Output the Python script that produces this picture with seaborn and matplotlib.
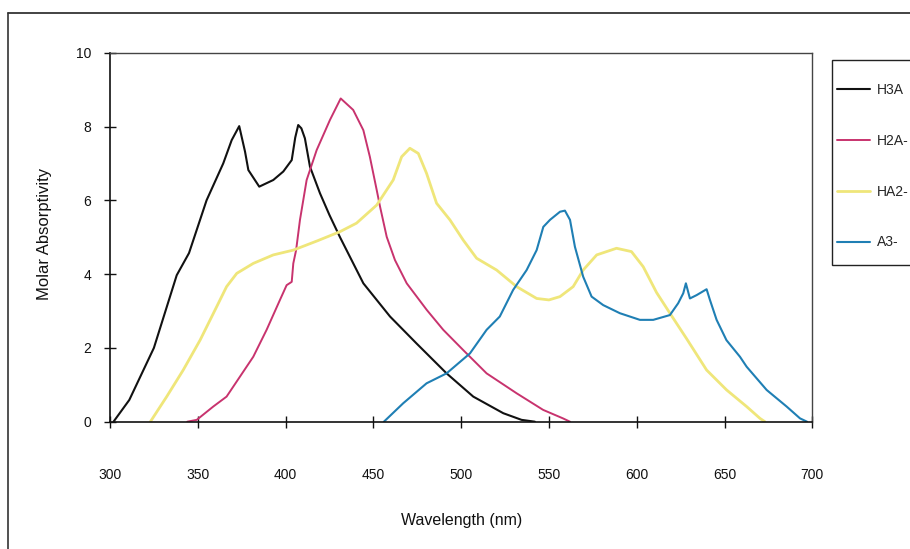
import numpy as np
import pandas as pd
import matplotlib
matplotlib.use("Agg")
import matplotlib.pyplot as plt
from matplotlib.lines import Line2D
from matplotlib.patches import Rectangle
import seaborn as sns

# ---- data ----
h3a_nm = [302, 311, 325, 338, 345, 355, 364.5, 369.3, 373.6, 376.9, 378.8, 385, 393, 398.7,
          403.5, 405.5, 407.2, 409, 411, 413.9, 419.6, 425, 431, 444.3, 459.5, 474.6, 491.7,
          506.9, 524, 534.4, 542]
h3a_val = [0, 0.59, 2.0, 3.97, 4.57, 6.0, 7.0, 7.63, 8.01, 7.32, 6.82, 6.37, 6.55, 6.78,
           7.09, 7.7, 8.04, 7.95, 7.68, 6.91, 6.19, 5.6, 5.0, 3.75, 2.85, 2.12, 1.31,
           0.68, 0.23, 0.05, 0]

h2a_nm = [344, 349.4, 358.8, 366.4, 374, 381.6, 389.2, 396.8, 400.6, 403.5, 404.4, 406, 408.2,
          412, 417.7, 425.3, 431.4, 438.5, 444.3, 448, 451.9, 453.8, 457.6, 462.3, 469, 480.4,
          489.8, 501.2, 514.5, 531.6, 546.7, 558, 562]
h2a_val = [0, 0.05, 0.41, 0.68, 1.22, 1.76, 2.49, 3.3, 3.7, 3.79, 4.29, 4.65, 5.47,
           6.55, 7.36, 8.18, 8.76, 8.45, 7.9, 7.18, 6.28, 5.83, 5.01, 4.38, 3.75, 3.03,
           2.49, 1.94, 1.31, 0.77, 0.32, 0.09, 0]

ha2_nm = [323, 332.3, 341.7, 351.3, 360.8, 366.4, 372.2, 381.6, 393, 404.4, 418, 431, 440.4,
          451.9, 461.3, 466.1, 470.8, 475.6, 480.3, 486, 493.6, 501.2, 508.8, 520.2, 531.6,
          543, 550, 556.3, 563.8, 569.5, 577.2, 588.5, 597, 603.7, 611.3, 618.9, 628.4,
          639.8, 651.2, 662.6, 670.2, 673]
ha2_val = [0, 0.68, 1.4, 2.21, 3.12, 3.66, 4.02, 4.29, 4.52, 4.65, 4.9, 5.15, 5.38,
           5.87, 6.55, 7.18, 7.41, 7.27, 6.73, 5.92, 5.47, 4.92, 4.43, 4.11, 3.66,
           3.34, 3.3, 3.39, 3.66, 4.11, 4.52, 4.7, 4.61, 4.2, 3.5, 2.94, 2.25,
           1.4, 0.86, 0.41, 0.09, 0]

a3_nm = [456, 467, 480.3, 491.7, 505, 514.5, 522, 529.6, 537.3, 543, 546.8, 550.6, 556.3,
         559.1, 562, 564.8, 569.5, 574.3, 580.9, 590.4, 601.8, 609.4, 618.9, 623.6, 626.5,
         628, 630.3, 634.1, 639.8, 641.7, 645.5, 651.1, 658.8, 662.6, 674, 685.4, 693, 697]
a3_val = [0, 0.5, 1.04, 1.31, 1.85, 2.49, 2.85, 3.57, 4.11, 4.65, 5.28, 5.47, 5.69,
          5.72, 5.47, 4.74, 3.93, 3.39, 3.16, 2.94, 2.76, 2.76, 2.89, 3.21, 3.48,
          3.75, 3.34, 3.43, 3.59, 3.3, 2.76, 2.21, 1.76, 1.49, 0.86, 0.41, 0.09, 0]

series_names = ["H3A", "H2A-", "HA2-", "A3-"]
x_ticks = [300, 350, 400, 450, 500, 550, 600, 650, 700]
y_ticks = [0, 2, 4, 6, 8, 10]

frames = []
for name, xs, ys in zip(series_names, [h3a_nm, h2a_nm, ha2_nm, a3_nm],
                        [h3a_val, h2a_val, ha2_val, a3_val]):
    frames.append(pd.DataFrame({"Wavelength": xs, "Absorptivity": ys, "Species": name}))
df = pd.concat(frames, ignore_index=True)

sns.set_style("white")
plt.rcParams["font.family"] = ["Liberation Sans", "DejaVu Sans"]

palette = {"H3A": "#111111", "H2A-": "#C8336E", "HA2-": "#EFE67A", "A3-": "#1F7FB4"}
widths = {"H3A": 1.5, "H2A-": 1.4, "HA2-": 2.0, "A3-": 1.5}

W, H = 910, 549
fig = plt.figure(figsize=(W / 100, H / 100), dpi=100)
ax = fig.add_axes([110 / W, 1 - 421.7 / H, (812.3 - 110) / W, (421.7 - 52.7) / H])

sns.lineplot(data=df, x="Wavelength", y="Absorptivity", hue="Species", palette=palette,
             hue_order=series_names, estimator=None, sort=False, linewidth=1.5,
             legend=False, ax=ax)
for line, name in zip(ax.get_lines(), series_names):
    line.set_linewidth(widths[name])
    line.set_solid_joinstyle("round")

ax.set_xlim(300, 700)
ax.set_ylim(0, 10)
ax.set_xticks(x_ticks)
ax.set_yticks(y_ticks)
ax.set_xticklabels([str(v) for v in x_ticks])
ax.set_yticklabels([str(v) for v in y_ticks])
ax.tick_params(axis="x", direction="inout", length=9, width=1, pad=29, labelsize=10,
               colors="#111111", bottom=True)
ax.tick_params(axis="y", direction="inout", length=9, width=1, pad=9, labelsize=10,
               colors="#111111", left=True)

for side in ["left", "bottom"]:
    ax.spines[side].set_color("#111111")
    ax.spines[side].set_linewidth(1.2)
for side in ["top", "right"]:
    ax.spines[side].set_color("#444444")
    ax.spines[side].set_linewidth(1.0)

ax.set_xlabel("Wavelength (nm)", fontsize=11.5, color="#111111")
ax.set_ylabel("Molar Absorptivity", fontsize=12, color="#111111")
ax.xaxis.set_label_coords(0.5, -0.248)
ax.yaxis.set_label_coords(-0.083, 0.51)

# outer chart border (top and left edges visible)
fig.add_artist(Line2D([8 / W, 1.0], [1 - 12.5 / H, 1 - 12.5 / H], transform=fig.transFigure,
                      color="#222222", linewidth=1.2))
fig.add_artist(Line2D([8 / W, 8 / W], [0, 1 - 12.5 / H], transform=fig.transFigure,
                      color="#333333", linewidth=1.2))

# legend box
fig.add_artist(Rectangle((832 / W, 1 - 265 / H), (930 - 832) / W, (265 - 60) / H,
                         transform=fig.transFigure, facecolor="white", edgecolor="#222222",
                         linewidth=1.0))
handles = [Line2D([], [], color=palette[n], linewidth=widths[n]) for n in series_names]
fig.legend(handles, series_names, loc="upper left", bbox_to_anchor=(837 / W, 1 - 83 / H),
           frameon=False, fontsize=10, labelspacing=2.65, handlelength=2.4,
           handletextpad=0.45, borderpad=0, borderaxespad=0)

fig.savefig("out.png", dpi=100)
